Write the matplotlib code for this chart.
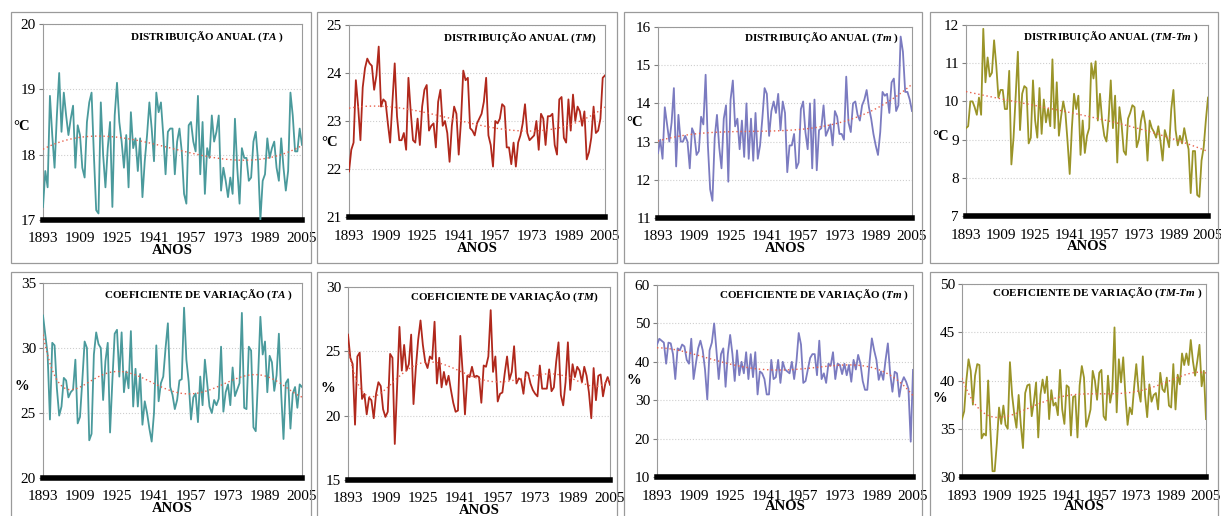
import numpy as np
import matplotlib
matplotlib.use("Agg")
import matplotlib.pyplot as plt
from matplotlib.patches import Rectangle

plt.rcParams['font.family'] = ['Liberation Serif', 'DejaVu Serif']
plt.rcParams['mathtext.fontset'] = 'custom'
plt.rcParams['mathtext.rm'] = 'Liberation Serif:bold'
plt.rcParams['mathtext.it'] = 'Liberation Serif:italic:bold'

years = np.arange(1893, 2006)
xticks = np.arange(1893, 2006, 16)

# distribuicao anual
ta = [17.2, 17.75, 17.5, 18.9, 18.3, 17.8, 18.6, 19.25, 18.35, 18.95,
      18.6, 18.3, 18.55, 18.75, 17.8, 18.45, 18.3, 17.8, 17.65, 18.5,
      18.8, 18.95, 18.0, 17.15, 17.1, 18.8, 18.0, 17.5, 18.1, 18.5,
      17.2, 18.6, 19.1, 18.5, 18.2, 17.8, 18.3, 17.5, 18.65, 18.1,
      18.25, 17.75, 18.25, 17.35, 17.9, 18.3, 18.8, 18.4, 17.9, 18.95,
      18.65, 18.8, 18.3, 17.7, 18.35, 18.4, 18.4, 17.7, 18.2, 18.4,
      18.05, 17.4, 17.25, 18.45, 18.5, 18.2, 18.05, 18.9, 17.7, 18.5,
      17.4, 18.1, 17.95, 18.6, 18.2, 18.35, 18.6, 17.45, 17.8, 17.6,
      17.35, 17.65, 17.4, 18.55, 17.8, 17.25, 18.1, 17.95, 17.95, 17.6,
      17.65, 18.2, 18.35, 17.9, 17.0, 17.6, 17.7, 18.25, 17.95, 18.1,
      18.2, 17.8, 17.6, 18.25, 17.8, 17.45, 17.75, 18.95, 18.6, 18.05,
      18.05, 18.4, 18.15]
tmax = [21.95, 22.4, 22.55, 23.85, 23.3, 22.6, 23.7, 24.1, 24.3, 24.2,
        24.15, 23.65, 23.95, 24.55, 23.3, 23.45, 23.4, 22.95, 22.55, 23.4,
        24.2, 23.1, 22.6, 22.6, 22.75, 22.4, 23.9, 23.2, 22.6, 22.55,
        23.05, 22.5, 23.3, 23.65, 23.75, 22.8, 22.9, 22.95, 22.45, 23.4,
        23.65, 22.9, 23.0, 22.75, 22.15, 22.9, 23.3, 23.15, 22.3, 23.0,
        24.05, 23.85, 23.9, 22.85, 22.8, 22.7, 22.95, 23.05, 23.15, 23.4,
        23.9, 22.7, 22.5, 22.05, 23.0, 22.95, 23.05, 23.35, 23.3, 22.45,
        22.45, 22.1, 22.55, 22.05, 22.55, 22.7, 22.95, 23.35, 22.75, 22.6,
        22.65, 22.7, 23.0, 22.4, 23.15, 23.05, 22.5, 23.1, 23.1, 23.15,
        22.5, 22.3, 23.45, 23.5, 22.65, 22.55, 23.45, 22.8, 23.55, 23.0,
        23.3, 23.2, 22.9, 23.2, 22.2, 22.35, 22.65, 23.3, 22.75, 22.8,
        23.05, 23.9, 23.95]
tmin = [12.7, 13.05, 12.55, 13.9, 13.45, 13.0, 13.5, 14.4, 12.35, 13.7,
        13.0, 13.0, 13.15, 13.0, 12.3, 13.35, 13.2, 12.65, 12.75, 13.65,
        13.45, 14.75, 12.9, 11.75, 11.45, 13.1, 13.7, 12.85, 12.3, 13.6,
        13.95, 11.95, 14.1, 14.6, 13.4, 13.6, 12.8, 13.55, 12.6, 14.0,
        12.55, 13.6, 12.5, 13.75, 12.55, 12.9, 13.6, 14.4, 14.25, 13.15,
        13.8, 14.05, 13.75, 14.25, 13.3, 14.05, 13.75, 12.2, 12.9, 12.9,
        13.2, 12.3, 12.45, 13.85, 14.05, 13.25, 12.8, 14.0, 12.3, 14.1,
        12.25, 13.3, 13.35, 13.95, 13.15, 13.3, 13.45, 12.9, 13.8, 13.65,
        13.2, 13.2, 13.05, 14.7, 13.5, 13.25, 14.0, 14.05, 13.7, 13.55,
        13.95, 14.1, 14.35, 13.9, 13.6, 13.2, 12.9, 12.65, 13.25, 14.3,
        14.2, 14.25, 13.75, 14.55, 14.65, 13.8, 13.95, 15.75, 15.35, 14.3,
        14.3, 14.1, 13.8]
amp = [9.3, 9.35, 10.0, 10.0, 9.85, 9.65, 10.1, 9.65, 11.9, 10.5,
       11.15, 10.65, 10.75, 11.6, 10.95, 10.1, 10.3, 10.3, 9.8, 9.8,
       10.8, 8.35, 9.05, 10.15, 11.3, 9.25, 10.2, 10.4, 10.35, 8.9,
       9.05, 10.55, 9.5, 9.05, 10.35, 9.15, 10.05, 9.45, 9.8, 9.35,
       11.1, 9.3, 10.5, 9.1, 9.6, 10.0, 9.7, 8.95, 8.1, 9.3,
       10.2, 9.8, 10.15, 8.6, 9.5, 8.65, 9.1, 9.3, 11.0, 10.6,
       11.05, 9.5, 10.2, 9.5, 9.1, 8.95, 9.55, 10.55, 9.3, 10.15,
       8.4, 9.85, 9.4, 8.7, 8.6, 9.55, 9.7, 9.9, 9.85, 8.8,
       9.0, 9.5, 9.75, 9.4, 8.45, 9.5, 9.3, 9.2, 9.05, 9.35,
       8.95, 8.45, 9.25, 9.05, 8.8, 9.8, 10.3, 9.25, 8.85, 9.1,
       8.9, 9.3, 9.0, 8.75, 7.6, 8.7, 8.7, 7.55, 7.5, 8.45,
       8.8, 9.5, 10.1]

# coeficiente de variacao (%)
cv_ta = [32.5, 31.0, 29.5, 24.5, 30.4, 30.2, 26.9, 24.8, 25.5, 27.7,
         27.5, 26.2, 26.6, 26.8, 29.1, 24.2, 24.7, 27.5, 30.5, 30.0,
         22.9, 23.4, 29.5, 31.2, 30.3, 30.0, 26.0, 29.0, 30.4, 23.5,
         27.5, 31.1, 31.4, 27.8, 31.2, 26.6, 28.2, 26.9, 31.3, 25.5,
         28.4, 25.5, 28.0, 24.1, 25.9, 25.0, 23.8, 22.8, 25.0, 30.2,
         25.9, 27.3, 27.8, 30.0, 31.9, 27.0, 26.4, 25.3, 26.0, 27.5,
         27.6, 33.1, 29.1, 27.4, 24.5, 26.2, 26.5, 24.3, 27.8, 25.6,
         29.1, 27.3, 25.5, 25.0, 26.0, 25.6, 26.1, 30.1, 25.1, 26.6,
         27.2, 25.6, 28.5, 26.3, 26.8, 27.3, 32.7, 25.4, 25.3, 30.1,
         29.8, 23.9, 23.6, 27.7, 32.4, 29.5, 30.5, 26.6, 29.4, 28.9,
         26.7, 27.9, 31.1, 26.5, 23.0, 27.3, 27.6, 23.8, 26.5, 27.0,
         25.4, 27.2, 27.0]
cv_tmax = [26.3, 24.5, 24.0, 19.3, 24.6, 24.9, 21.3, 21.7, 20.1, 21.4,
           21.2, 19.8, 21.7, 22.6, 22.3, 20.5, 19.9, 20.3, 24.8, 24.5,
           17.8, 22.3, 26.9, 23.5, 25.5, 23.5, 24.0, 26.3, 20.9, 23.7,
           25.9, 27.4, 25.5, 24.2, 23.7, 24.6, 24.4, 27.3, 22.5, 24.5,
           22.2, 23.4, 22.4, 23.1, 22.0, 21.0, 20.3, 20.4, 26.2, 23.4,
           20.1, 23.1, 23.0, 23.8, 23.0, 23.1, 23.0, 21.0, 23.9, 23.8,
           24.6, 28.2, 23.4, 24.6, 21.1, 21.7, 21.8, 23.3, 24.6, 22.8,
           23.4, 25.4, 22.5, 22.9, 22.8, 21.7, 23.4, 23.3, 22.5, 22.0,
           21.7, 21.5, 23.9, 22.1, 22.1, 22.1, 23.6, 21.9, 22.2, 24.2,
           25.7, 21.6, 20.8, 22.6, 25.7, 22.0, 24.0, 23.0, 23.8, 23.5,
           22.6, 23.8, 23.1, 21.8, 19.8, 23.7, 21.2, 23.1, 23.2, 21.5,
           22.5, 23.0, 22.4]
cv_tmin = [44.5, 46.0, 45.5, 45.0, 39.5, 45.0, 44.8, 42.0, 35.5, 43.5,
           43.0, 44.5, 44.0, 40.5, 39.5, 46.0, 35.5, 39.5, 43.5, 45.5,
           43.0, 38.0, 30.2, 43.0, 45.0, 50.0, 43.0, 35.5, 42.0, 43.5,
           33.5, 42.0, 47.0, 42.0, 35.0, 43.0, 36.5, 40.0, 37.0, 42.5,
           35.5, 42.0, 36.0, 42.5, 31.5, 37.5, 37.0, 35.5, 31.5, 31.5,
           40.5, 35.5, 36.0, 40.5, 34.5, 40.0, 38.0, 37.5, 37.0, 40.0,
           35.5, 40.0, 47.5, 44.5, 34.5, 35.0, 38.0, 41.0, 42.0, 42.0,
           36.5, 45.5, 35.5, 37.0, 34.5, 39.5, 39.0, 42.5, 35.5, 39.5,
           39.2, 36.8, 39.5, 36.5, 39.2, 34.8, 40.5, 38.0, 41.8, 39.5,
           35.0, 32.7, 32.7, 40.0, 46.1, 43.0, 40.5, 35.3, 37.5, 35.3,
           40.5, 44.8, 37.0, 32.2, 37.4, 37.0, 30.9, 34.5, 36.0, 34.8,
           33.0, 19.2, 37.9]
cv_amp = [36.0, 36.8, 40.0, 42.2, 41.0, 37.5, 40.5, 41.7, 41.6, 34.0,
          34.5, 34.3, 40.0, 35.0, 30.6, 30.6, 33.5, 37.2, 35.5, 37.4,
          35.4, 35.0, 41.9, 38.5, 36.5, 35.1, 38.5, 35.4, 33.0, 38.7,
          39.5, 39.6, 36.3, 37.8, 39.8, 34.1, 38.5, 40.1, 38.7, 40.4,
          36.0, 39.0, 37.4, 37.7, 36.4, 41.1, 37.0, 35.5, 39.5, 39.3,
          34.3, 38.3, 38.4, 34.1, 39.5, 41.5, 40.3, 35.2, 36.0, 37.0,
          41.0, 40.0, 38.0, 40.8, 41.1, 36.3, 35.9, 40.5, 37.7, 39.0,
          45.5, 36.7, 42.2, 39.8, 42.4, 38.5, 35.4, 37.2, 36.5, 39.3,
          41.7, 39.0, 37.8, 42.5, 38.5, 36.2, 39.6, 37.8, 38.5, 38.7,
          37.0, 40.8, 39.1, 38.8, 40.3, 37.4, 37.2, 41.7, 37.0, 40.6,
          39.6, 42.8, 41.6, 42.8, 41.6, 44.2, 42.0, 40.5, 42.0, 43.7,
          39.4, 41.0, 36.0]

W, H = 1221, 516
TEAL, RED, BLUE, OLIVE = "#4a9a9c", "#b0281c", "#7b7bc0", "#9a9428"


def figBox(l, r, t, b):
    return [l / W, 1 - b / H, (r - l) / W, (b - t) / H]


def drawPanel(fig, values, color, box, frame, ylim, step, title, titleXY, ylab, ylabXY, deg, anosGap=31):
    # outer frame of each chart
    fig.add_artist(Rectangle((frame[0] / W, 1 - frame[3] / H),
                             (frame[1] - frame[0]) / W, (frame[3] - frame[2]) / H,
                             transform=fig.transFigure, fill=False,
                             ec="#9a9a9a", lw=0.9))
    ax = fig.add_axes(figBox(*box))
    ax.plot(years, values, color=color, lw=1.3, zorder=3)

    # polynomial trend line (as the excel trendline)
    xs = (years - 1949) / 56.0
    coef = np.polyfit(xs, values, deg)
    ax.plot(years, np.polyval(coef, xs), color="#e8604c", lw=1.0,
            ls=(0, (1, 2)), zorder=4)

    ax.set_xlim(1893, 2005)
    ax.set_ylim(*ylim)
    ax.set_yticks(np.arange(ylim[0], ylim[1] + 0.01, step))
    ax.set_xticks(xticks)
    ax.grid(axis="y", color="#cfcfcf", ls=":", lw=0.8)
    ax.tick_params(axis="x", length=0, pad=9, labelsize=11)
    ax.tick_params(axis="y", length=3, color="#808080", pad=2, labelsize=11)
    for s in ["left", "top", "right"]:
        ax.spines[s].set_color("#9a9a9a")
        ax.spines[s].set_linewidth(0.8)
    ax.spines["bottom"].set_color("black")
    ax.spines["bottom"].set_linewidth(4)
    ax.set_axisbelow(True)

    fig.text(titleXY[0] / W, 1 - titleXY[1] / H, title, ha="right", va="center",
             fontsize=8, fontweight="bold")
    fig.text(ylabXY[0] / W, 1 - ylabXY[1] / H, ylab, ha="left", va="center",
             fontsize=10.5, fontweight="bold")
    fig.text((box[0] + box[1]) / 2 / W, 1 - (box[3] + anosGap) / H, "ANOS",
             ha="center", va="center", fontsize=10.5, fontweight="bold")
    return ax


fig = plt.figure(figsize=(W / 100, H / 100), dpi=100)

da = "DISTRIBUIÇÃO ANUAL ("
cv = "COEFICIENTE DE VARIAÇÃO ("

drawPanel(fig, ta, TEAL, (43, 302, 24, 220), (11, 311, 12, 263), (17, 20), 1,
          da + r"$TA$" + " )", (284, 37), "°C", (13, 127), 3)
drawPanel(fig, tmax, RED, (349, 605, 25, 217), (317, 617, 12, 263), (21, 25), 1,
          da + r"$TM$" + ")", (597, 38), "°C", (321, 143), 3)
drawPanel(fig, tmin, BLUE, (658, 912, 27, 218), (624, 922, 12, 263), (11, 16), 1,
          da + r"$Tm$" + " )", (899, 38), "°C", (626, 123), 3)
drawPanel(fig, amp, OLIVE, (966, 1208, 25, 216), (930, 1218, 12, 263), (7, 12), 1,
          da + r"$TM$" + "-" + r"$Tm$" + " )", (1199, 37), "°C", (932, 136), 3)

drawPanel(fig, cv_ta, TEAL, (43, 302, 283, 478), (11, 311, 272, 530), (20, 35), 5,
          cv + r"$TA$" + " )", (293, 295), "%", (14, 387), 6, 30)
drawPanel(fig, cv_tmax, RED, (348, 610, 287, 480), (317, 617, 272, 530), (15, 30), 5,
          cv + r"$TM$" + ")", (599, 297), "%", (321, 388), 6, 30)
drawPanel(fig, cv_tmin, BLUE, (657, 913, 285, 477), (624, 922, 272, 530), (10, 60), 10,
          cv + r"$Tm$" + " )", (909, 295), "%", (627, 380), 4, 30)
drawPanel(fig, cv_amp, OLIVE, (962, 1206, 284, 477), (930, 1218, 272, 530), (30, 50), 5,
          cv + r"$TM$" + "-" + r"$Tm$" + " )", (1202, 293), "%", (932, 398), 5, 30)

fig.savefig("out.png", dpi=100)
